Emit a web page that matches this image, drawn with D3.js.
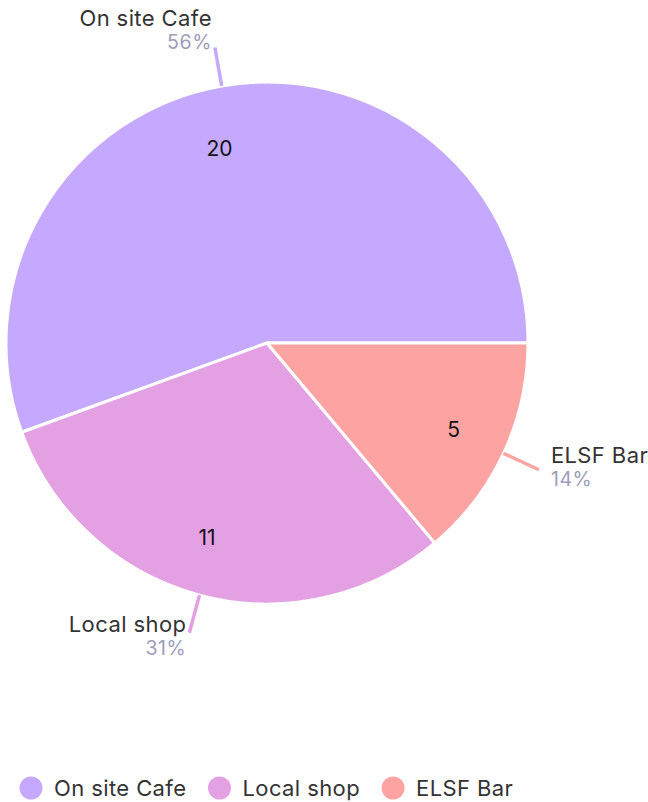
<!DOCTYPE html>
<html>
<head>
<meta charset="utf-8">
<script src="https://cdn.jsdelivr.net/npm/d3@7.9.0/dist/d3.min.js"></script>
<style>
  html, body { margin: 0; padding: 0; background: #fff; }
  svg { display: block; font-family: Inter, "Noto Sans", sans-serif; }
</style>
</head>
<body>
<svg id="chart" width="648" height="802"></svg>
<script>
const categories = ['On site Cafe', 'Local shop', 'ELSF Bar'];
const counts = [20, 11, 5];
const colors = ['#c5a9ff', '#e3a1e3', '#fda4a3'];

const svg = d3.select('#chart');
const cx = 267, cy = 343, radius = 261;

const total = d3.sum(counts);
const data = categories.map((name, i) => ({ name, value: counts[i], color: colors[i] }));

// slices run counter-clockwise from 3 o'clock
const pie = d3.pie().sort(null).value(d => d.value)
  .startAngle(Math.PI / 2).endAngle(Math.PI / 2 - 2 * Math.PI);
const arcs = pie(data);

const g = svg.append('g').attr('transform', `translate(${cx},${cy})`);
const arc = d3.arc().innerRadius(0).outerRadius(radius);

g.selectAll('path.slice')
  .data(arcs)
  .join('path')
  .attr('class', 'slice')
  .attr('d', arc)
  .attr('fill', d => d.data.color)
  .attr('stroke', '#fff')
  .attr('stroke-width', 3)
  .attr('stroke-linejoin', 'round');

// values inside the slices
const inner = d3.arc().innerRadius(199).outerRadius(199);
g.selectAll('text.value')
  .data(arcs)
  .join('text')
  .attr('class', 'value')
  .attr('transform', d => `translate(${inner.centroid(d)})`)
  .attr('text-anchor', d => inner.centroid(d)[0] < 0 ? 'end' : 'start')
  .attr('dy', '0.45em')
  .attr('font-size', 21)
  .attr('fill', '#111')
  .text(d => d.data.value);

// leader lines + outer labels
const mid = d => (d.startAngle + d.endAngle) / 2;
const pt = (a, r) => [Math.sin(a) * r, -Math.cos(a) * r];

arcs.forEach(d => {
  const a = mid(d);
  const p0 = pt(a, radius), p1 = pt(a, radius + 39);
  g.append('line')
    .attr('x1', p0[0]).attr('y1', p0[1])
    .attr('x2', p1[0]).attr('y2', p1[1])
    .attr('stroke', d.data.color)
    .attr('stroke-width', 3.5);

  const right = p1[0] > 0;
  const tx = right ? p1[0] + 12 : p1[0] - 3;
  const base = p1[1] - 11 + 11 * (-Math.cos(a));
  const lab = g.append('text')
    .attr('x', tx)
    .attr('text-anchor', right ? 'start' : 'end');
  lab.append('tspan')
    .attr('x', tx).attr('y', base)
    .attr('font-size', 22)
    .attr('letter-spacing', 0.4)
    .attr('fill', '#333')
    .text(d.data.name);
  lab.append('tspan')
    .attr('x', tx).attr('y', base + 23)
    .attr('font-size', 19.5)
    .attr('letter-spacing', 0.6)
    .attr('fill', '#9e9cba')
    .text(Math.round(d.data.value / total * 100) + '%');
});

// legend
const legend = svg.append('g').attr('transform', 'translate(0,788)');
let x = 31;
data.forEach(d => {
  legend.append('circle')
    .attr('cx', x).attr('cy', 0).attr('r', 11.5)
    .attr('fill', d.color);
  const t = legend.append('text')
    .attr('x', x + 23).attr('y', 0)
    .attr('dy', '0.36em')
    .attr('font-size', 22)
    .attr('letter-spacing', 0.4)
    .attr('fill', '#333')
    .text(d.name);
  x = x + 23 + t.node().getComputedTextLength() + 33;
});
</script>
</body>
</html>
